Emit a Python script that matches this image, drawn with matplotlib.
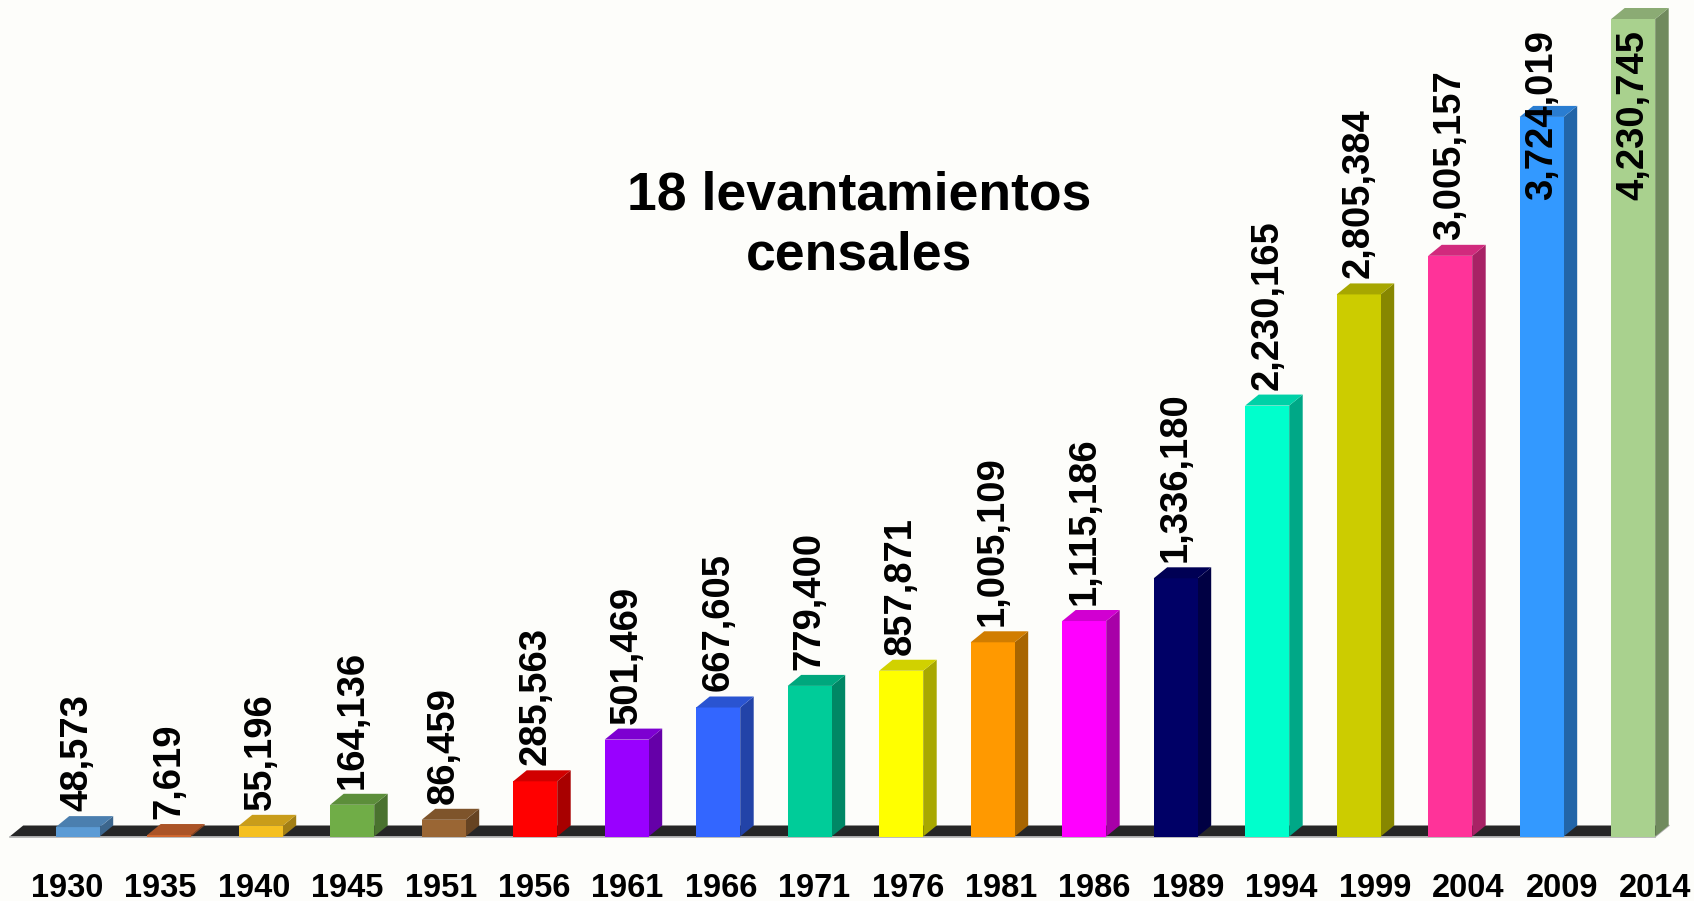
import matplotlib
matplotlib.use("Agg")
import matplotlib.pyplot as plt
from matplotlib import colors
from matplotlib.patches import Polygon

plt.rcParams['font.family'] = ['Liberation Sans', 'DejaVu Sans']

years = ["1930", "1935", "1940", "1945", "1951", "1956", "1961", "1966", "1971",
         "1976", "1981", "1986", "1989", "1994", "1999", "2004", "2009", "2014"]
values = [48573, 7619, 55196, 164136, 86459, 285563, 501469, 667605, 779400,
          857871, 1005109, 1115186, 1336180, 2230165, 2805384, 3005157, 3724019, 4230745]
bar_colors = ["#5b9bd5", "#d0672f", "#f5c020", "#70ad47", "#9a6634", "#ff0000",
              "#9900ff", "#3366ff", "#00cc99", "#ffff00", "#ff9900", "#ff00ff",
              "#000066", "#00ffcc", "#cccc00", "#ff3399", "#3399ff", "#a9d18e"]
title_lines = ["18 levantamientos", "censales"]

W, H = 1694, 901
fig = plt.figure(figsize=(W / 100, H / 100), dpi=100)
fig.patch.set_facecolor("#fdfdfa")
ax = fig.add_axes([0, 0, 1, 1])
ax.set_facecolor("#fdfdfa")
ax.axis("off")

# pixel layout -> data limits
x0_px, step_px = 55.7, 91.5
base_px, px_per_val = 64.5, 817.5 / 4230745
ax.set_xlim(-x0_px / step_px, (W - x0_px) / step_px)
ax.set_ylim(-base_px / px_per_val, (H - base_px) / px_per_val)

bw = 44 / step_px
dx = 13.5 / step_px
dy = 11 / px_per_val


def shade(c, f):
    r, g, b = colors.to_rgb(c)
    return (r * f, g * f, b * f)


n = len(values)
xs = list(range(n))

# floor
fl_left = -46 / step_px
floor = Polygon([(fl_left, 0), (xs[-1] + bw, 0), (xs[-1] + bw + dx, dy), (fl_left + dx, dy)],
                closed=True, fc="#262626", ec="none", zorder=1)
ax.add_patch(floor)
ax.plot([fl_left, xs[-1] + bw], [0, 0], color="#b0b0b0", lw=1.2, zorder=1.5)
ax.plot([xs[-1] + bw, xs[-1] + bw + dx], [0, dy], color="#b0b0b0", lw=1.2, zorder=1.5)

# bars (front faces)
ax.bar(xs, values, width=bw, align="edge", color=bar_colors, zorder=3)
for x, v, c in zip(xs, values, bar_colors):
    side = Polygon([(x + bw, 0), (x + bw + dx, dy), (x + bw + dx, v + dy), (x + bw, v)],
                   closed=True, fc=shade(c, 0.66), ec="none", zorder=2.5)
    top = Polygon([(x, v), (x + dx, v + dy), (x + bw + dx, v + dy), (x + bw, v)],
                  closed=True, fc=shade(c, 0.82), ec="none", zorder=3.5)
    ax.add_patch(side)
    ax.add_patch(top)

# value labels
renderer = fig.canvas.get_renderer()
cap_px = H - 30
for x, v in zip(xs, values):
    t = ax.text(x + bw / 2, v + dy + 5 / px_per_val, f"{v:,}", rotation=90,
                ha="center", va="bottom", fontsize=27.5, fontweight="bold",
                color="black", zorder=5)
    bb = t.get_window_extent(renderer)
    if bb.y1 > cap_px:
        t.set_va("top")
        t.set_y((cap_px - base_px) / px_per_val)

# year labels
for i, yr in enumerate(years):
    ax.text(0.123 + i * 1.021, 4 / H, yr, transform=ax.get_xaxis_transform(),
            ha="center", va="baseline", fontsize=23.5, fontweight="bold", color="black")

# title
ax.text(0.507, (H - 209) / H, title_lines[0], transform=ax.transAxes, ha="center",
        va="baseline", fontsize=38.5, fontweight="bold")
ax.text(0.507, (H - 269) / H, title_lines[1], transform=ax.transAxes, ha="center",
        va="baseline", fontsize=38.5, fontweight="bold")

fig.savefig("out.png", dpi=100, facecolor=fig.get_facecolor())
